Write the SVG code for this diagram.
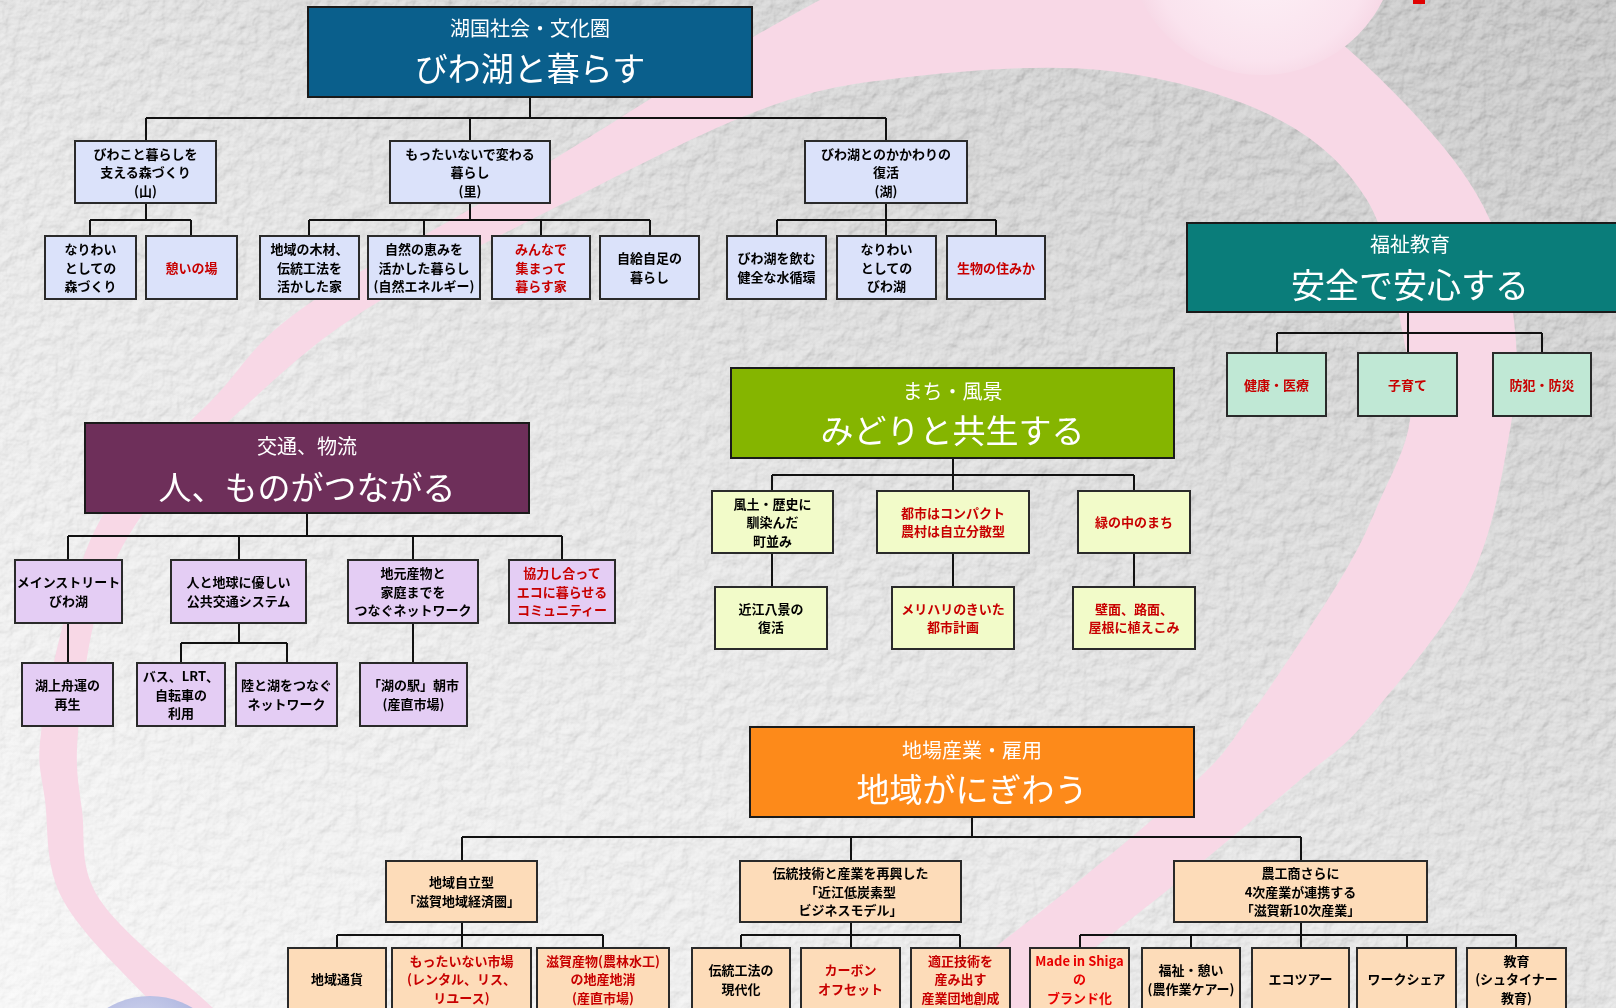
<svg xmlns="http://www.w3.org/2000/svg" width="1616" height="1008" viewBox="0 0 1616 1008">
<defs>
<style>
.hd{stroke:#1a1a1a;stroke-width:2}
.bx{stroke:#2a2a2a;stroke-width:2}
.sub{font-family:"Noto Sans CJK JP","Noto Sans CJK SC",sans-serif;font-size:20px;fill:#fff;text-anchor:middle}
.ttl{font-family:"Noto Sans CJK JP","Noto Sans CJK SC",sans-serif;font-size:33px;fill:#fff;text-anchor:middle}
.t{font-family:"Noto Sans CJK JP","Noto Sans CJK SC",sans-serif;font-size:13px;font-weight:700;fill:#000;text-anchor:middle}
.r{fill:#c80000}
.c1{fill:#dbe2fa}.c2{fill:#c0e8d5}.c3{fill:#f2fbc9}.c4{fill:#e4cdf4}.c5{fill:#fddcb9}
.ln{fill:none;stroke:#111;stroke-width:2}
</style>
<linearGradient id="bgG" x1="0" y1="1" x2="1" y2="0">
<stop offset="0" stop-color="#fbfbfb"/><stop offset="0.45" stop-color="#efefef"/><stop offset="1" stop-color="#d4d4d4"/>
</linearGradient>
<linearGradient id="mG" x1="0" y1="1" x2="1" y2="0">
<stop offset="0" stop-color="#fff" stop-opacity="0.3"/><stop offset="0.5" stop-color="#fff" stop-opacity="0.6"/><stop offset="1" stop-color="#fff" stop-opacity="0.9"/>
</linearGradient>
<mask id="texMask"><rect width="1616" height="1008" fill="url(#mG)"/></mask>
<filter id="paper" x="0" y="0" width="1616" height="1008" filterUnits="userSpaceOnUse">
<feTurbulence type="fractalNoise" baseFrequency="0.07" numOctaves="4" seed="7" result="n"/>
<feDiffuseLighting in="n" surfaceScale="2.2" lighting-color="#ffffff" diffuseConstant="1" result="l">
<feDistantLight azimuth="235" elevation="60"/>
</feDiffuseLighting>
</filter>
<radialGradient id="sphP" cx="0.5" cy="0.55" r="0.5">
<stop offset="0" stop-color="#fdf2f7"/><stop offset="0.8" stop-color="#fae3ee"/><stop offset="1" stop-color="#f6d6e4"/>
</radialGradient>
<radialGradient id="sphB" cx="0.45" cy="0.3" r="0.6">
<stop offset="0" stop-color="#dfe2f4"/><stop offset="0.6" stop-color="#b4bbe2"/><stop offset="1" stop-color="#8e98cc"/>
</radialGradient>
</defs>

<g id="background">
<rect width="1616" height="1008" fill="url(#bgG)"/>
<rect width="1616" height="1008" fill="#fff" filter="url(#paper)" mask="url(#texMask)" style="mix-blend-mode:multiply"/>
<path fill="#f8d8e6" fill-rule="evenodd" d="M41,733 C45.2,699.7 58,638.8 70,600 C82,561.2 89.3,533.3 113,500 C136.7,466.7 180.8,431.7 212,400 C243.2,368.3 248.7,346.7 300,310 C351.3,273.3 443.3,226.2 520,180 C596.7,133.8 696.7,68 760,33 C823.3,-2 835,-11.2 900,-30 C965,-48.8 1083.3,-86.7 1150,-80 C1216.7,-73.3 1255,-23.3 1300,10 C1345,43.3 1388.3,85 1420,120 C1451.7,155 1474.2,185 1490,220 C1505.8,255 1511.7,295 1515,330 C1518.3,365 1517.5,388.3 1510,430 C1502.5,471.7 1493.8,531.7 1470,580 C1446.2,628.3 1395.3,686.7 1367,720 C1338.7,753.3 1331.2,753.3 1300,780 C1268.8,806.7 1216.7,850 1180,880 C1143.3,910 1105,938.7 1080,960 C1055,981.3 1060,976.3 1030,1008 C1000,1039.7 988.3,1118 900,1150 C811.7,1182 608.3,1208.3 500,1200 C391.7,1191.7 307.2,1132 250,1100 C192.8,1068 188.2,1041.3 157,1008 C125.8,974.7 81.7,934.7 63,900 C44.3,865.3 48.7,827.8 45,800 C41.3,772.2 36.8,766.3 41,733 Z M78,733 C81,698 87.5,638.8 100,600 C112.5,561.2 127.7,533.3 153,500 C178.3,466.7 216.7,431.7 252,400 C287.3,368.3 313.7,342.5 365,310 C416.3,277.5 494.2,238.3 560,205 C625.8,171.7 703.3,131.2 760,110 C816.7,88.8 843.3,84.7 900,78 C956.7,71.3 1038.3,63.8 1100,70 C1161.7,76.2 1225.5,93.3 1270,115 C1314.5,136.7 1345,164.2 1367,200 C1389,235.8 1394.8,293.3 1402,330 C1409.2,366.7 1413.7,391.7 1410,420 C1406.3,448.3 1391.7,473.3 1380,500 C1368.3,526.7 1362.2,543.3 1340,580 C1317.8,616.7 1270.8,686.7 1247,720 C1223.2,753.3 1224.8,753.3 1197,780 C1169.2,806.7 1116.2,850 1080,880 C1043.8,910 1005,938.7 980,960 C955,981.3 956.7,983 930,1008 C903.3,1033 900,1089.7 820,1110 C740,1130.3 540,1136.7 450,1130 C360,1123.3 319.5,1090.3 280,1070 C240.5,1049.7 243,1036.3 213,1008 C183,979.7 121.8,933 100,900 C78.2,867 85.7,837.8 82,810 C78.3,782.2 75,768 78,733 Z"/>
<circle cx="1262" cy="-60" r="135" fill="url(#sphP)"/>
<circle cx="150" cy="1078" r="82" fill="url(#sphB)"/>
<rect x="1413" y="-6" width="12" height="10" fill="#e00000"/>
</g>

<g id="connectors" class="ln">
<path d="M530,97V118 M146,118H886 M146,118V141 M470,118V141 M886,118V141"/>
<path d="M146,203V220 M90,220H191 M90,220V236 M191,220V236"/>
<path d="M470,203V220 M309,220H650 M309,220V236 M424,220V236 M541,220V236 M650,220V236"/>
<path d="M886,203V220 M777,220H996 M777,220V236 M886,220V236 M996,220V236"/>
<path d="M1408,312V333 M1277,333H1542 M1277,333V353 M1408,333V353 M1542,333V353"/>
<path d="M953,458V475 M772,475H1134 M772,475V491 M953,475V491 M1134,475V491"/>
<path d="M772,553V587 M953,553V587 M1134,553V587"/>
<path d="M307,513V536 M68,536H562 M68,536V560 M239,536V560 M413,536V560 M562,536V560"/>
<path d="M68,623V663 M239,623V643 M181,643H287 M181,643V663 M287,643V663 M413,623V663"/>
<path d="M972,817V837 M462,837H1301 M462,837V861 M851,837V861 M1301,837V861"/>
<path d="M462,922V935 M337,935H603 M337,935V948 M462,935V948 M603,935V948"/>
<path d="M851,922V935 M741,935H960 M741,935V948 M851,935V948 M960,935V948"/>
<path d="M1301,922V935 M1080,935H1516 M1080,935V948 M1191,935V948 M1301,935V948 M1407,935V948 M1516,935V948"/>
</g>

<!-- Biwako -->
<g id="n-biwako">
<rect class="hd" x="308" y="7" width="444" height="90" fill="#0a5f8c"/>
<text class="sub" x="530" y="36">湖国社会・文化圏</text>
<text class="ttl" x="530" y="81">びわ湖と暮らす</text>
</g>
<g id="n-yama"><rect class="bx c1" x="75" y="141" width="141" height="62"/>
<text class="t" x="145.5" y="158.5">びわこと暮らしを<tspan x="145.5" dy="18.5">支える森づくり</tspan><tspan x="145.5" dy="18.5">(山)</tspan></text></g>
<g id="n-sato"><rect class="bx c1" x="390" y="141" width="160" height="62"/>
<text class="t" x="470" y="158.5">もったいないで変わる<tspan x="470" dy="18.5">暮らし</tspan><tspan x="470" dy="18.5">(里)</tspan></text></g>
<g id="n-mizuumi"><rect class="bx c1" x="805" y="141" width="162" height="62"/>
<text class="t" x="886" y="158.5">びわ湖とのかかわりの<tspan x="886" dy="18.5">復活</tspan><tspan x="886" dy="18.5">(湖)</tspan></text></g>
<g id="n-a1"><rect class="bx c1" x="45" y="236" width="91" height="63"/>
<text class="t" x="90.5" y="254">なりわい<tspan x="90.5" dy="18.5">としての</tspan><tspan x="90.5" dy="18.5">森づくり</tspan></text></g>
<g id="n-a2"><rect class="bx c1" x="146" y="236" width="91" height="63"/>
<text class="t r" x="191.5" y="272.5">憩いの場</text></g>
<g id="n-b1"><rect class="bx c1" x="260" y="236" width="99" height="63"/>
<text class="t" x="309.5" y="254">地域の木材、<tspan x="309.5" dy="18.5">伝統工法を</tspan><tspan x="309.5" dy="18.5">活かした家</tspan></text></g>
<g id="n-b2"><rect class="bx c1" x="368" y="236" width="112" height="63"/>
<text class="t" x="424" y="254">自然の恵みを<tspan x="424" dy="18.5">活かした暮らし</tspan><tspan x="424" dy="18.5">(自然エネルギー)</tspan></text></g>
<g id="n-b3"><rect class="bx c1" x="492" y="236" width="98" height="63"/>
<text class="t r" x="541" y="254">みんなで<tspan x="541" dy="18.5">集まって</tspan><tspan x="541" dy="18.5">暮らす家</tspan></text></g>
<g id="n-b4"><rect class="bx c1" x="600" y="236" width="99" height="63"/>
<text class="t" x="649.5" y="263">自給自足の<tspan x="649.5" dy="18.5">暮らし</tspan></text></g>
<g id="n-c1"><rect class="bx c1" x="727" y="236" width="99" height="63"/>
<text class="t" x="776.5" y="263">びわ湖を飲む<tspan x="776.5" dy="18.5">健全な水循環</tspan></text></g>
<g id="n-c2"><rect class="bx c1" x="837" y="236" width="99" height="63"/>
<text class="t" x="886.5" y="254">なりわい<tspan x="886.5" dy="18.5">としての</tspan><tspan x="886.5" dy="18.5">びわ湖</tspan></text></g>
<g id="n-c3"><rect class="bx c1" x="947" y="236" width="98" height="63"/>
<text class="t r" x="996" y="272.5">生物の住みか</text></g>

<!-- Fukushi -->
<g id="n-fukushi">
<rect class="hd" x="1187" y="223" width="460" height="89" fill="#0a7d7a"/>
<text class="sub" x="1410" y="252">福祉教育</text>
<text class="ttl" x="1410" y="298" style="font-size:34px">安全で安心する</text>
</g>
<g id="n-d1"><rect class="bx c2" x="1227" y="353" width="99" height="63"/>
<text class="t r" x="1276.5" y="389.5">健康・医療</text></g>
<g id="n-d2"><rect class="bx c2" x="1358" y="353" width="99" height="63"/>
<text class="t r" x="1407.5" y="389.5">子育て</text></g>
<g id="n-d3"><rect class="bx c2" x="1493" y="353" width="98" height="63"/>
<text class="t r" x="1542" y="389.5">防犯・防災</text></g>

<!-- Midori -->
<g id="n-midori">
<rect class="hd" x="731" y="368" width="443" height="90" fill="#85b500"/>
<text class="sub" x="952.5" y="398.5">まち・風景</text>
<text class="ttl" x="952.5" y="443">みどりと共生する</text>
</g>
<g id="n-e1"><rect class="bx c3" x="712" y="491" width="121" height="62"/>
<text class="t" x="772.5" y="508.5">風土・歴史に<tspan x="772.5" dy="18.5">馴染んだ</tspan><tspan x="772.5" dy="18.5">町並み</tspan></text></g>
<g id="n-e2"><rect class="bx c3" x="877" y="491" width="152" height="62"/>
<text class="t r" x="953" y="517.5">都市はコンパクト<tspan x="953" dy="18.5">農村は自立分散型</tspan></text></g>
<g id="n-e3"><rect class="bx c3" x="1078" y="491" width="112" height="62"/>
<text class="t r" x="1134" y="527">緑の中のまち</text></g>
<g id="n-e1a"><rect class="bx c3" x="715" y="587" width="112" height="62"/>
<text class="t" x="771" y="613.5">近江八景の<tspan x="771" dy="18.5">復活</tspan></text></g>
<g id="n-e2a"><rect class="bx c3" x="892" y="587" width="122" height="62"/>
<text class="t r" x="953" y="613.5">メリハリのきいた<tspan x="953" dy="18.5">都市計画</tspan></text></g>
<g id="n-e3a"><rect class="bx c3" x="1073" y="587" width="122" height="62"/>
<text class="t r" x="1134" y="613.5">壁面、路面、<tspan x="1134" dy="18.5">屋根に植えこみ</tspan></text></g>

<!-- Kotsu -->
<g id="n-kotsu">
<rect class="hd" x="85" y="423" width="444" height="90" fill="#6e2f5a"/>
<text class="sub" x="307" y="454">交通、物流</text>
<text class="ttl" x="307" y="499.5">人、ものがつながる</text>
</g>
<g id="n-f1"><rect class="bx c4" x="15" y="560" width="107" height="63"/>
<text class="t" x="68.5" y="587">メインストリート<tspan x="68.5" dy="18.5">びわ湖</tspan></text></g>
<g id="n-f2"><rect class="bx c4" x="171" y="560" width="135" height="63"/>
<text class="t" x="238.5" y="587">人と地球に優しい<tspan x="238.5" dy="18.5">公共交通システム</tspan></text></g>
<g id="n-f3"><rect class="bx c4" x="348" y="560" width="130" height="63"/>
<text class="t" x="413" y="578">地元産物と<tspan x="413" dy="18.5">家庭までを</tspan><tspan x="413" dy="18.5">つなぐネットワーク</tspan></text></g>
<g id="n-f4"><rect class="bx c4" x="509" y="560" width="106" height="63"/>
<text class="t r" x="562" y="578">協力し合って<tspan x="562" dy="18.5">エコに暮らせる</tspan><tspan x="562" dy="18.5">コミュニティー</tspan></text></g>
<g id="n-f1a"><rect class="bx c4" x="22" y="663" width="91" height="63"/>
<text class="t" x="67.5" y="690">湖上舟運の<tspan x="67.5" dy="18.5">再生</tspan></text></g>
<g id="n-f2a"><rect class="bx c4" x="137" y="663" width="88" height="63"/>
<text class="t" x="181" y="681">バス、LRT、<tspan x="181" dy="18.5">自転車の</tspan><tspan x="181" dy="18.5">利用</tspan></text></g>
<g id="n-f2b"><rect class="bx c4" x="236" y="663" width="101" height="63"/>
<text class="t" x="286.5" y="690">陸と湖をつなぐ<tspan x="286.5" dy="18.5">ネットワーク</tspan></text></g>
<g id="n-f3a"><rect class="bx c4" x="360" y="663" width="107" height="63"/>
<text class="t" x="413.5" y="690">「湖の駅」朝市<tspan x="413.5" dy="18.5">(産直市場)</tspan></text></g>

<!-- Jiba -->
<g id="n-jiba">
<rect class="hd" x="750" y="727" width="444" height="90" fill="#fd8a1a"/>
<text class="sub" x="972" y="757.5">地場産業・雇用</text>
<text class="ttl" x="972" y="802">地域がにぎわう</text>
</g>
<g id="n-g1"><rect class="bx c5" x="386" y="861" width="151" height="61"/>
<text class="t" x="461.5" y="887">地域自立型<tspan x="461.5" dy="18.5">「滋賀地域経済圏」</tspan></text></g>
<g id="n-g2"><rect class="bx c5" x="740" y="861" width="221" height="61"/>
<text class="t" x="850.5" y="878">伝統技術と産業を再興した<tspan x="850.5" dy="18.5">「近江低炭素型</tspan><tspan x="850.5" dy="18.5">ビジネスモデル」</tspan></text></g>
<g id="n-g3"><rect class="bx c5" x="1174" y="861" width="253" height="61"/>
<text class="t" x="1300.5" y="878">農工商さらに<tspan x="1300.5" dy="18.5">4次産業が連携する</tspan><tspan x="1300.5" dy="18.5">「滋賀新10次産業」</tspan></text></g>
<g id="n-g1a"><rect class="bx c5" x="288" y="948" width="98" height="62"/>
<text class="t" x="337" y="984">地域通貨</text></g>
<g id="n-g1b"><rect class="bx c5" x="392" y="948" width="139" height="62"/>
<text class="t r" x="461.5" y="965.5">もったいない市場<tspan x="461.5" dy="18.5">(レンタル、リス、</tspan><tspan x="461.5" dy="18.5">リユース)</tspan></text></g>
<g id="n-g1c"><rect class="bx c5" x="537" y="948" width="132" height="62"/>
<text class="t r" x="603" y="965.5">滋賀産物(農林水工)<tspan x="603" dy="18.5">の地産地消</tspan><tspan x="603" dy="18.5">(産直市場)</tspan></text></g>
<g id="n-g2a"><rect class="bx c5" x="692" y="948" width="98" height="62"/>
<text class="t" x="741" y="975">伝統工法の<tspan x="741" dy="18.5">現代化</tspan></text></g>
<g id="n-g2b"><rect class="bx c5" x="801" y="948" width="99" height="62"/>
<text class="t r" x="850.5" y="975">カーボン<tspan x="850.5" dy="18.5">オフセット</tspan></text></g>
<g id="n-g2c"><rect class="bx c5" x="911" y="948" width="99" height="62"/>
<text class="t r" x="960.5" y="965.5">適正技術を<tspan x="960.5" dy="18.5">産み出す</tspan><tspan x="960.5" dy="18.5">産業団地創成</tspan></text></g>
<g id="n-g3a"><rect class="bx c5" x="1030" y="948" width="99" height="62"/>
<text class="t r" x="1079.5" y="965.5" style="fill:#e80000">Made in Shiga<tspan x="1079.5" dy="18.5">の</tspan><tspan x="1079.5" dy="18.5">ブランド化</tspan></text></g>
<g id="n-g3b"><rect class="bx c5" x="1142" y="948" width="98" height="62"/>
<text class="t" x="1191" y="975">福祉・憩い<tspan x="1191" dy="18.5">(農作業ケアー)</tspan></text></g>
<g id="n-g3c"><rect class="bx c5" x="1252" y="948" width="97" height="62"/>
<text class="t" x="1300.5" y="984">エコツアー</text></g>
<g id="n-g3d"><rect class="bx c5" x="1357" y="948" width="99" height="62"/>
<text class="t" x="1406.5" y="984">ワークシェア</text></g>
<g id="n-g3e"><rect class="bx c5" x="1467" y="948" width="99" height="62"/>
<text class="t" x="1516.5" y="965.5">教育<tspan x="1516.5" dy="18.5">(シュタイナー</tspan><tspan x="1516.5" dy="18.5">教育)</tspan></text></g>
</svg>
